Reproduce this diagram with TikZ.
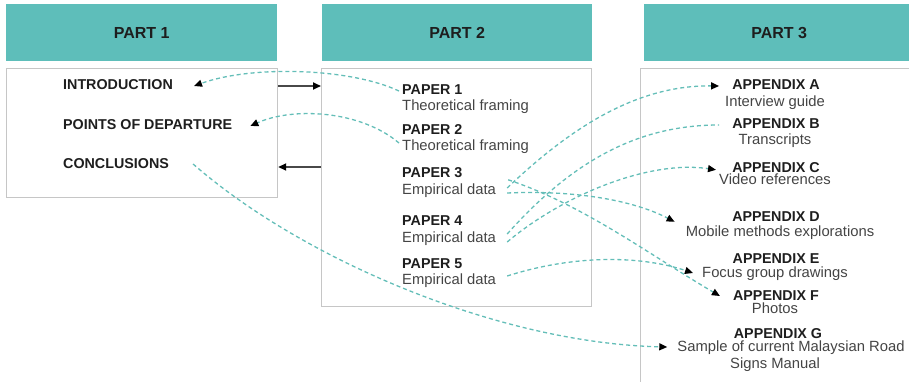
\documentclass[tikz,border=0pt]{standalone}
\usepackage{fontspec}
\setmainfont{Liberation Sans}
\usetikzlibrary{arrows.meta,calc,positioning}
\definecolor{headteal}{RGB}{94,190,186}
\definecolor{linkteal}{RGB}{100,190,184}
\definecolor{framegray}{RGB}{198,198,198}
\definecolor{flowgray}{RGB}{72,72,72}
\definecolor{titlecol}{RGB}{30,30,30}
\definecolor{bodycol}{RGB}{68,68,68}

\begin{document}
\begin{tikzpicture}[x=1pt, y=-1pt, >={Triangle[length=8pt,width=7pt,color=black]},
  header/.style={fill=headteal, minimum height=57pt, anchor=north west, inner sep=0pt,
    font=\bfseries\fontsize{16}{19}\selectfont, text=titlecol},
  partbox/.style={draw=framegray, line width=1.2pt, anchor=north west, inner sep=0pt},
  ttl/.style={font=\bfseries\fontsize{14.3}{17}\selectfont, text=titlecol, text height=11pt, text depth=3pt, inner sep=3pt},
  sub/.style={font=\fontsize{14.8}{17}\selectfont, text=bodycol, text height=11pt, text depth=3pt, inner sep=3pt},
  xref/.style={draw=linkteal, line width=1.3pt, dash pattern=on 4pt off 3pt},
  flow/.style={draw=flowgray, line width=1.8pt, -{Triangle[length=8pt,width=7pt,color=black]}}]
  \useasboundingbox (0,0) rectangle (909,382);
  % column headers
  \node[header, minimum width=271pt] (head1) at (6,4) {PART 1};
  \node[header, minimum width=270pt] (head2) at (322,4) {PART 2};
  \node[header, minimum width=270pt] (head3) at (644,4) {PART 3};
  % column frames
  \node[partbox, minimum width=271pt, minimum height=129pt] (box1) at (6,68) {};
  \node[partbox, minimum width=270pt, minimum height=238pt] (box2) at (321,68) {};
  \node[partbox, minimum width=290pt, minimum height=330pt] (box3) at (640,68) {};
  % part 1
  \node[ttl, anchor=base west] (intro) at (60,90) {INTRODUCTION};
  \node[ttl, anchor=base west] (depart) at (60,130) {POINTS OF DEPARTURE};
  \node[ttl, anchor=base west] (concl) at (60,168) {CONCLUSIONS};
  % part 2
  \node[ttl, anchor=base west] (pap1) at (399,95) {PAPER 1};
  \node[sub, anchor=base west] (pap1t) at (399,111) {Theoretical framing};
  \node[ttl, anchor=base west] (pap2) at (399,135) {PAPER 2};
  \node[sub, anchor=base west] (pap2t) at (399,151) {Theoretical framing};
  \node[ttl, anchor=base west] (pap3) at (399,178) {PAPER 3};
  \node[sub, anchor=base west] (pap3t) at (399,194) {Empirical data};
  \node[ttl, anchor=base west] (pap4) at (399,225) {PAPER 4};
  \node[sub, anchor=base west] (pap4t) at (399,242) {Empirical data};
  \node[ttl, anchor=base west] (pap5) at (399,268) {PAPER 5};
  \node[sub, anchor=base west] (pap5t) at (399,284) {Empirical data};
  % part 3
  \node[ttl, anchor=base] (appA) at (776,90) {APPENDIX A};
  \node[sub, anchor=base] (appAt) at (775,107) {Interview guide};
  \node[ttl, anchor=base] (appB) at (776,129) {APPENDIX B};
  \node[sub, anchor=base] (appBt) at (775,145) {Transcripts};
  \node[ttl, anchor=base] (appC) at (776,172) {APPENDIX C};
  \node[sub, anchor=base] (appCt) at (775,185) {Video references};
  \node[ttl, anchor=base] (appD) at (776,221) {APPENDIX D};
  \node[sub, anchor=base] (appDt) at (780,236) {Mobile methods explorations};
  \node[ttl, anchor=base] (appE) at (776,263) {APPENDIX E};
  \node[sub, anchor=base] (appEt) at (775,277) {Focus group drawings};
  \node[ttl, anchor=base] (appF) at (776,300) {APPENDIX F};
  \node[sub, anchor=base] (appFt) at (775,313) {Photos};
  \node[ttl, anchor=base] (appG) at (778,338) {APPENDIX G};
  \node[sub, anchor=base] (appGt) at (791,351) {Sample of current Malaysian Road};
  \node[sub, anchor=base] (appGs) at (775,368) {Signs Manual};
  % flow between parts 1 and 2
  \draw[flow] (box1.east |- intro) -- (box2.west |- intro);
  \draw[flow] ($(box2.west |- concl)+(0,3)$) -- ($(box1.east |- concl)+(0,3)$);
  % cross references
  \draw[xref, ->] (pap1.west) .. controls +(-49,-23) and +(58,-21) .. ([xshift=18pt]intro.east);
  \draw[xref, ->] ([yshift=4pt]pap2t.west) .. controls +(-39,-33) and +(42,-19) .. ([xshift=15pt]depart.east);
  \draw[xref, ->] ([xshift=21pt]concl.east) .. controls +(110,96) and +(-168,-4) .. ([xshift=-7pt]appGt.west);
  \draw[xref, ->] ([xshift=8pt,yshift=2pt]pap3t.east) .. controls +(66,-63) and +(-80,-1) .. ([xshift=-10pt]appA.west);
  \draw[xref, ->] ([xshift=9pt]pap3t.north east) .. controls +(75,25) and +(-70,-41) .. ([xshift=-10pt]appF.west);
  \draw[xref, ->] ([xshift=8pt,yshift=-3pt]pap3t.east) .. controls +(66,-3) and +(-42,-22) .. ([xshift=-8pt]appDt.north west);
  \draw[xref] ([xshift=8pt,yshift=4pt]pap4t.east) .. controls +(66,-74) and +(-80,0) .. ([xshift=-10pt]appB.west);
  \draw[xref, ->] ([xshift=8pt,yshift=-4pt]pap4t.east) .. controls +(56,-47) and +(-67,-10) .. ([yshift=1pt]appCt.north west);
  \draw[xref, ->] ([xshift=8pt,yshift=4pt]pap5t.east) .. controls +(66,-21) and +(-54,-18) .. ([xshift=-6pt]appEt.west);
\end{tikzpicture}
\end{document}
